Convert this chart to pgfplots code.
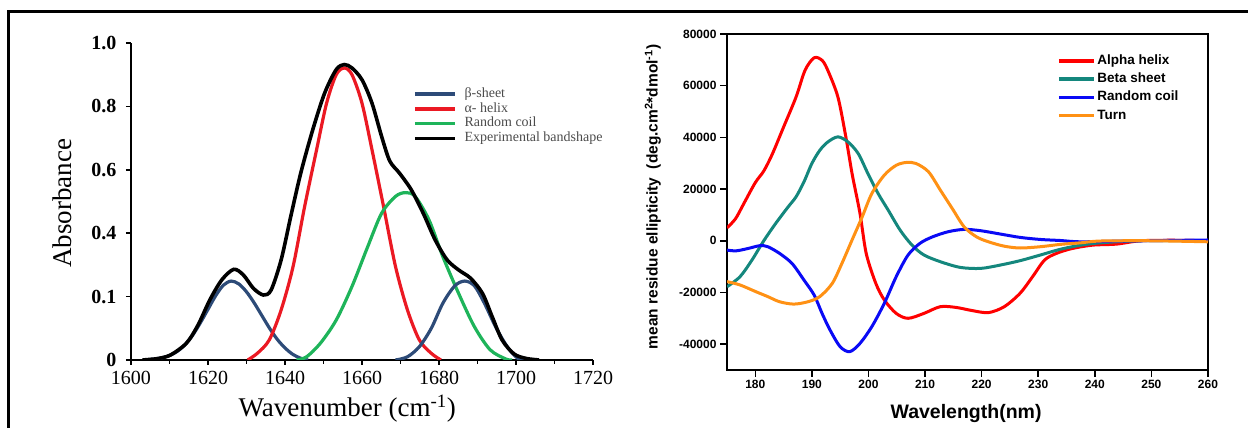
\documentclass[border=0pt]{standalone}
\usepackage{fontspec}
\setmainfont{Liberation Serif}
\newfontfamily\arial{Liberation Sans}
\usepackage{pgfplots}
\pgfplotsset{compat=1.18}

\definecolor{bsheet}{RGB}{45,75,120}
\definecolor{ahelix}{RGB}{235,25,35}
\definecolor{rcoil}{RGB}{30,180,90}
\definecolor{leggray}{RGB}{75,75,75}
\definecolor{cdred}{RGB}{255,0,0}
\definecolor{cdteal}{RGB}{20,135,125}
\definecolor{cdblue}{RGB}{10,10,245}
\definecolor{cdorange}{RGB}{255,145,20}

\begin{document}
\begin{tikzpicture}[x=1pt,y=1pt]
\useasboundingbox (0pt,0pt) rectangle (1248pt,428pt);
\draw[line width=2.5pt] (8.5pt,0pt) -- (8.5pt,416.5pt) -- (1248pt,416.5pt);

% FTIR amide I band fit
\begin{axis}[
  at={(131pt,68pt)}, anchor=south west, scale only axis,
  width=462pt, height=317pt,
  xmin=1600, xmax=1720, ymin=0, ymax=1,
  axis lines=left, axis line style={-, line width=1.8pt},
  xtick={1600,1620,...,1720}, minor xtick={1610,1630,...,1710},
  xticklabels={1600,1620,1640,1660,1680,1700,1720},
  ytick={0,0.2,0.4,0.6,0.8,1}, yticklabels={0,0.1,0.4,0.6,0.8,1.0},
  tick align=outside, major tick length=5pt, minor tick length=4pt,
  tick style={line width=1.5pt, black},
  ticklabel style={font=\fontsize{20}{22}\selectfont},
  xticklabel style={yshift=-3pt},
  yticklabel style={xshift=-6pt, font=\bfseries\fontsize{20}{22}\selectfont},
  xlabel={Wavenumber (cm\textsuperscript{-1})},
  ylabel={Absorbance},
  xlabel style={font=\fontsize{27}{30}\selectfont, at={(axis description cs:0.468,-0.152)}, anchor=center},
  ylabel style={font=\fontsize{27}{30}\selectfont, at={(axis description cs:-0.149,0.495)}, anchor=center},
  legend cell align=left,
  legend image code/.code={\draw[#1,line width=3.5pt] (0pt,0pt) -- (40pt,0pt); \path (48pt,0pt);},
  legend style={draw=none, fill=none, at={(axis description cs:0.61,0.861)}, anchor=north west,
    font=\fontsize{14}{14}\selectfont\color{leggray}, row sep=1.3pt, inner sep=0pt,
    nodes={inner sep=0pt, text height=10pt, text depth=3.5pt}},
]
\addplot[bsheet, line width=3.2pt, smooth] coordinates {
  (1604,0) (1606,0.003) (1608,0.007) (1610,0.014) (1612,0.027) (1614,0.048)
  (1616,0.078) (1618,0.117) (1620,0.16) (1622,0.203) (1624,0.236) (1626,0.249)
  (1628,0.24) (1630,0.215) (1632,0.18) (1634,0.14) (1636,0.1) (1638,0.065)
  (1640,0.038) (1642,0.018) (1644,0.006) (1646,0)
};
\addlegendentry{β-sheet}
\addplot[ahelix, line width=3.2pt, smooth] coordinates {
  (1630.3,0) (1632.8,0.021) (1635.9,0.063) (1639,0.158) (1642.1,0.295)
  (1645.1,0.484) (1648.2,0.663) (1650.8,0.81) (1653.3,0.9) (1655.4,0.921)
  (1657.4,0.9) (1660,0.81) (1662.6,0.663) (1665.6,0.484) (1668.7,0.295)
  (1671.8,0.158) (1674.9,0.063) (1678,0.021) (1680.5,0)
};
\addlegendentry{α- helix}
\addplot[rcoil, line width=3.2pt, smooth] coordinates {
  (1643,0) (1645.6,0.01) (1649.2,0.053) (1653.3,0.126) (1657.4,0.232)
  (1661.5,0.358) (1665.1,0.463) (1668.7,0.516) (1671.3,0.528) (1673.8,0.516)
  (1677.4,0.442) (1681,0.326) (1685.1,0.21) (1689.2,0.105) (1693.3,0.032)
  (1697.4,0.003) (1699,0)
};
\addlegendentry{Random coil}
\addplot[bsheet, line width=3.2pt, smooth, forget plot] coordinates {
  (1668.7,0) (1671.8,0.01) (1674.9,0.042) (1678,0.1) (1681,0.179)
  (1684.1,0.234) (1686.7,0.249) (1689.2,0.234) (1691.8,0.179) (1694.9,0.1)
  (1698,0.037) (1700.5,0.005) (1702.6,0)
};
\addplot[black, line width=3.6pt, smooth] coordinates {
  (1603,0) (1605,0.002) (1607.2,0.005) (1610.3,0.016) (1614.4,0.053)
  (1617.4,0.11) (1620.5,0.19) (1623.6,0.253) (1626.7,0.286) (1629.2,0.268)
  (1631.8,0.226) (1634.4,0.205) (1636.4,0.221) (1639,0.316) (1641.5,0.453)
  (1644.1,0.59) (1647.2,0.726) (1650.3,0.842) (1653.3,0.916) (1655.4,0.932)
  (1657.4,0.921) (1660,0.884) (1662.6,0.81) (1665.1,0.705) (1667.2,0.628)
  (1669.7,0.59) (1672.8,0.537) (1675.9,0.463) (1679,0.379) (1682.1,0.316)
  (1685.1,0.284) (1688.2,0.258) (1691.3,0.21) (1693.8,0.137) (1696.4,0.063)
  (1699.5,0.019) (1702.6,0.005) (1706,0)
};
\addlegendentry{Experimental bandshape}
\end{axis}

% CD reference spectra
\begin{axis}[
  at={(727pt,58pt)}, anchor=south west, scale only axis,
  width=481pt, height=336pt,
  xmin=175, xmax=260, ymin=-50000, ymax=80000,
  scaled y ticks=false, scaled x ticks=false,
  axis line style={line width=1.8pt},
  xtick={180,190,...,260}, xticklabels={180,190,200,210,220,230,240,250,260},
  ytick={-40000,-20000,...,80000},
  yticklabels={-40000,-20000,0,20000,40000,60000,80000},
  xtick pos=bottom, ytick pos=left,
  tick align=outside, major tick length=7pt,
  tick style={line width=1.5pt, black},
  ticklabel style={font=\arial\bfseries\fontsize{12}{14}\selectfont},
  xlabel={Wavelength(nm)},
  ylabel={mean residue ellipticity\ \ (deg.cm\textsuperscript{2}*dmol\textsuperscript{-1})},
  xlabel style={font=\arial\bfseries\fontsize{19.5}{22}\selectfont, at={(axis description cs:0.497,-0.128)}, anchor=center},
  ylabel style={font=\arial\bfseries\fontsize{15.5}{18}\selectfont, at={(axis description cs:-0.154,0.515)}, anchor=center},
  legend cell align=left,
  legend image code/.code={\draw[#1,line width=3.5pt] (0pt,0pt) -- (35pt,0pt); \path (37pt,0pt);},
  legend style={draw=none, fill=none, at={(axis description cs:0.686,0.94)}, anchor=north west,
    font=\arial\bfseries\fontsize{13.5}{14}\selectfont, row sep=5.3pt, inner sep=0pt,
    nodes={inner sep=0pt, text height=10pt, text depth=3pt}},
]
\addplot[cdred, line width=3pt, smooth] coordinates {
  (175,5000) (176.5,8500) (178,14500) (180,22500) (181.5,27000) (183,33500)
  (185,44000) (187.2,55600) (188.8,66000) (190.4,70800) (191.8,69800)
  (192.8,66000) (194.6,55600) (196,40200) (197.1,26000) (198.5,10600)
  (199.6,-4900) (201.3,-16500) (202.8,-22900) (204.9,-28100) (207,-30000)
  (209.8,-28100) (212.7,-25500) (215.5,-25800) (218.3,-27000) (221.2,-27800)
  (224,-25500) (226.8,-20300) (229,-13900) (231.1,-7500) (233.2,-4900)
  (236,-3000) (239.6,-1700) (243.8,-1300) (248.1,0) (254,200) (260,0)
};
\addlegendentry{Alpha helix}
\addplot[cdteal, line width=3pt, smooth] coordinates {
  (175,-17800) (177.3,-13900) (179.4,-7500) (181.5,0) (183.6,6700)
  (185.8,13100) (187.2,17000) (188.6,22800) (190,29900) (191.4,35000)
  (192.8,38200) (194.6,40200) (196.4,38200) (198.2,33700) (199.9,26000)
  (201.7,18300) (203.5,11800) (205.6,4100) (207.7,-1700) (209.8,-5500)
  (212.7,-8100) (216.2,-10300) (219.8,-10700) (223.3,-9400) (226.8,-7700)
  (230.4,-5500) (233.9,-3300) (237.5,-1700) (241,-800) (248.1,0) (260,0)
};
\addlegendentry{Beta sheet}
\addplot[cdblue, line width=3pt, smooth] coordinates {
  (175,-3600) (176.6,-3900) (178.7,-3000) (180.8,-1900) (182.2,-2300)
  (184.3,-4900) (186.5,-8800) (188.6,-15200) (190.4,-21000) (191.8,-28100)
  (193.2,-34500) (195,-41000) (196.7,-42900) (198.5,-39700) (200.6,-33200)
  (202.8,-24200) (204.9,-13900) (207,-5500) (209.1,-1000) (211.3,1500)
  (214.1,3500) (216.9,4400) (219.8,3900) (223.3,2600) (226.8,1300)
  (230.4,500) (233.9,100) (237.5,-400) (245,-100) (252,100) (260,300)
};
\addlegendentry{Random coil}
\addplot[cdorange, line width=3pt, smooth] coordinates {
  (175,-15800) (177.3,-17100) (180.1,-19700) (182.2,-21600) (184.3,-23600)
  (186.8,-24500) (189.3,-23600) (191.4,-21600) (193.6,-16500) (195.3,-8800)
  (197.1,300) (198.9,9300) (200.6,18300) (202.8,25400) (204.9,29200)
  (206.7,30300) (208.4,29900) (210.6,26700) (212.7,19600) (214.8,12500)
  (216.9,5400) (219.1,1500) (221.2,-400) (224,-2100) (226.8,-2800)
  (230.4,-2300) (233.9,-1400) (237.5,-800) (241,-100) (250,0) (260,-400)
};
\addlegendentry{Turn}
\end{axis}
\end{tikzpicture}
\end{document}
